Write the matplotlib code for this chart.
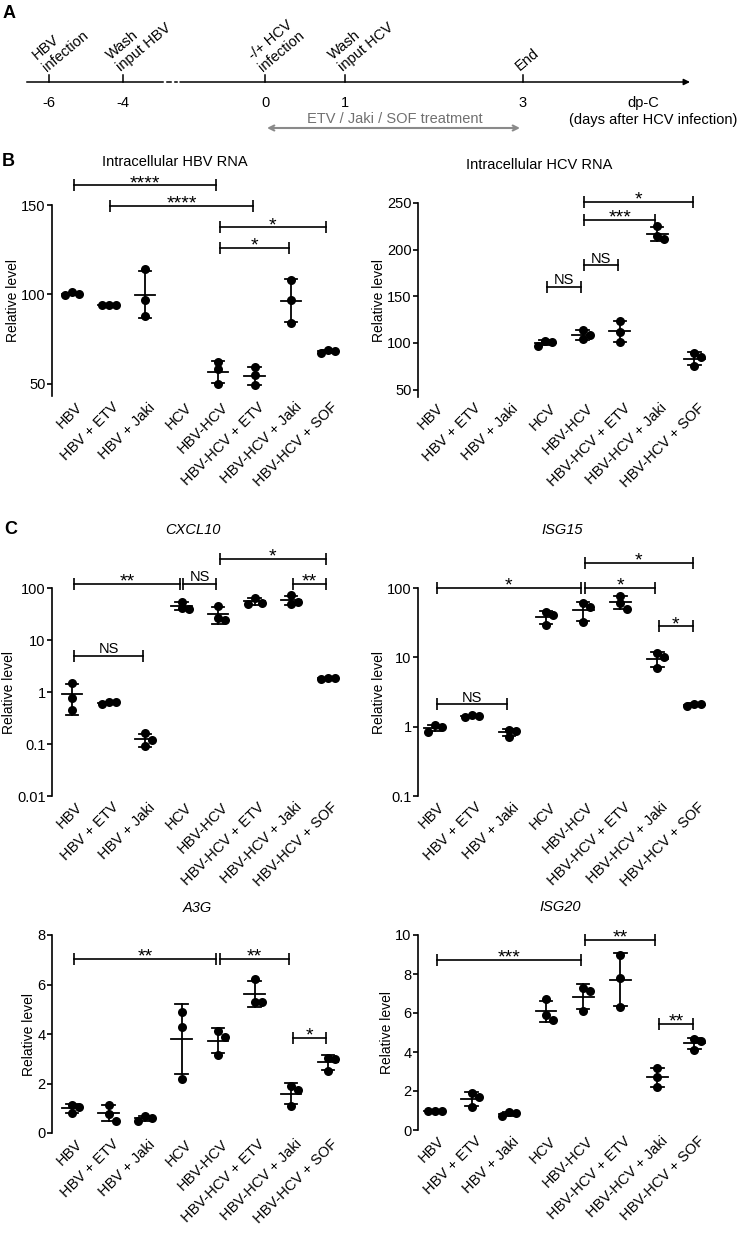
import numpy as np
import matplotlib
matplotlib.use('Agg')
import matplotlib.pyplot as plt
from matplotlib.ticker import NullLocator
from matplotlib.transforms import ScaledTranslation

plt.rcParams['font.family'] = ['Liberation Sans', 'DejaVu Sans']
plt.rcParams['font.size'] = 10

W, H = 742, 1236

# groups on the x axis
groups = ['HBV', 'HBV + ETV', 'HBV + Jaki', 'HCV', 'HBV-HCV',
          'HBV-HCV + ETV', 'HBV-HCV + Jaki', 'HBV-HCV + SOF']

# panel A: time line
time_ticks = ['-6', '-4', '0', '1', '3']
time_events = ['HBV\ninfection', 'Wash\ninput HBV', '-/+ HCV\ninfection',
               'Wash\ninput HCV', 'End']
treatment = 'ETV / Jaki / SOF treatment'

# panel B (empty list = no data for that group)
hbv_rna = [[99.5, 101, 100], [94, 94, 94], [114, 97, 88], [],
           [62, 58, 50], [59, 55, 49], [108, 97, 84], [69, 67, 68]]
hbv_rna_sig = [(0, 4, 161, '****'), (1, 5, 149.5, '****'),
               (4, 7, 137.5, '*'), (4, 6, 126, '*')]

hcv_rna = [[], [], [], [97, 101, 102], [114, 104, 108],
           [124, 112, 101], [225, 211, 215], [89, 85, 75]]
hcv_rna_sig = [(4, 7, 251, '*'), (4, 6, 232, '***'),
               (4, 5, 183, 'NS'), (3, 4, 160, 'NS')]

# panel C
cxcl10 = [[1.5, 0.75, 0.45], [0.65, 0.6, 0.63], [0.16, 0.12, 0.09],
          [55, 41, 40], [45, 27, 24], [65, 51, 50], [73, 55, 50], [1.9, 1.8, 1.85]]
cxcl10_sig = [(0, 3, 119, '**'), (3, 4, 119, 'NS'), (4, 7, 360, '*'),
              (6, 7, 119, '**'), (0, 2, 5, 'NS')]

isg15 = [[1.05, 1.0, 0.85], [1.45, 1.4, 1.42], [0.9, 0.88, 0.72],
         [45, 41, 29], [60, 54, 32], [77, 61, 50], [11.5, 10, 7], [2.1, 2.0, 2.15]]
isg15_sig = [(0, 4, 101, '*'), (4, 6, 101, '*'), (4, 7, 230, '*'),
             (6, 7, 28, '*'), (0, 2, 2.1, 'NS')]

a3g = [[1.15, 1.05, 0.8], [1.15, 0.75, 0.5], [0.7, 0.6, 0.5],
       [4.9, 4.3, 2.18], [4.13, 3.89, 3.15], [6.21, 5.3, 5.3],
       [1.9, 1.74, 1.1], [3.0, 3.05, 2.5]]
a3g_sig = [(0, 4, 7.03, '**'), (4, 6, 7.03, '**'), (6, 7, 3.84, '*')]

isg20 = [[1.0, 1.0, 0.95], [1.9, 1.7, 1.2], [0.9, 0.85, 0.7],
         [6.7, 5.64, 5.9], [7.3, 7.13, 6.1], [9.0, 7.8, 6.3],
         [3.2, 2.7, 2.2], [4.67, 4.55, 4.1]]
isg20_sig = [(0, 4, 8.72, '***'), (4, 6, 9.74, '**'), (6, 7, 5.46, '**')]


fig = plt.figure(figsize=(W / 100, H / 100), dpi=100)


def box(left, top, right, bottom):
    # pixel box -> figure fraction
    return [left / W, 1 - bottom / H, (right - left) / W, (bottom - top) / H]


def swarm(ax, x, vals, step=0.19, dmin=6.5):
    placed = []
    offs = np.zeros(len(vals))
    for k in np.argsort(-vals):
        for o in [0, step, -step, 2 * step, -2 * step]:
            p = ax.transData.transform((x + o, vals[k]))
            if all(np.hypot(*(p - q)) >= dmin for q in placed):
                break
        offs[k] = o
        placed.append(p)
    return offs


def bracket(ax, x1, x2, y, label):
    d = 0.05
    ax.plot([x1 + d, x2 - d], [y, y], color='k', lw=1.2, marker='|', ms=8,
            mew=1.2, clip_on=False, zorder=5)
    star = '*' in label
    ax.annotate(label, xy=((x1 + x2) / 2, y), xytext=(0, -2 if star else 2),
                textcoords='offset points', ha='center', va='baseline',
                fontsize=14 if star else 10.5, annotation_clip=False)


def scatter_panel(pos, values, sig, ylim, yticks, xlo, log=False, ticklabels=None):
    ax = fig.add_axes(box(*pos))
    if log:
        ax.set_yscale('log')
    ax.set_xlim(xlo, 7.5)
    ax.set_ylim(*ylim)
    ax.set_yticks(yticks)
    if ticklabels is not None:
        ax.set_yticklabels(ticklabels)
    ax.yaxis.set_minor_locator(NullLocator())
    for s in ['top', 'right', 'bottom']:
        ax.spines[s].set_visible(False)
    ax.spines['left'].set_linewidth(1.2)
    ax.tick_params(axis='y', direction='out', length=3.6, width=1.2, labelsize=10.5, pad=1)
    ax.tick_params(axis='x', length=0, pad=3)
    ax.set_xticks(range(len(groups)))
    ax.set_xticklabels(groups, rotation=45, ha='right', va='top',
                       rotation_mode='anchor', fontsize=10.5)
    for lbl in ax.get_xticklabels():
        lbl.set_transform(lbl.get_transform() + ScaledTranslation(0.03, 0, fig.dpi_scale_trans))
    ax.set_ylabel('Relative level', fontsize=10, labelpad=1)

    for i, vals in enumerate(values):
        if not vals:
            continue
        v = np.array(vals, dtype=float)
        offs = swarm(ax, i, v)
        ax.plot(i + offs, v, 'o', color='k', ms=6.5, mew=0, clip_on=False, zorder=3)
        m, sd = v.mean(), v.std(ddof=1)
        lo, hi = m - sd, m + sd
        ax.plot([i - 0.28, i + 0.28], [m, m], color='k', lw=1.3, zorder=4)
        ax.plot([i, i], [lo, hi], color='k', lw=1.3, zorder=4)
        for e in (lo, hi):
            ax.plot([i - 0.17, i + 0.17], [e, e], color='k', lw=1.3, zorder=4)

    for x1, x2, y, label in sig:
        bracket(ax, x1, x2, y, label)
    return ax


# ---------------- panel A ----------------
ta = fig.add_axes(box(0, 0, W, 145))
ta.set_xlim(0, W)
ta.set_ylim(145, 0)
ta.axis('off')

tick_px = [49, 123, 265, 345, 523]
line_y = 82
ta.plot([27, 163], [line_y, line_y], color='k', lw=1.1)
ta.plot([167, 171], [line_y, line_y], color='k', lw=1.1)
ta.plot([175, 177], [line_y, line_y], color='k', lw=1.1)
ta.annotate('', xy=(690, line_y), xytext=(180, line_y),
            arrowprops=dict(arrowstyle='-|>', lw=1.1, color='k',
                            mutation_scale=9, shrinkA=0, shrinkB=0))
for tx, tl, ev in zip(tick_px, time_ticks, time_events):
    ta.plot([tx, tx], [line_y, line_y - 7], color='k', lw=1.1)
    ta.text(tx, 103, tl, ha='center', va='center', fontsize=10.5)
    ta.text(tx - 3, 71, ev, rotation=40, ha='left', va='baseline',
            rotation_mode='anchor', multialignment='left', fontsize=10.5,
            linespacing=1.1)
ta.text(643, 103, 'dp-C', ha='center', va='center', fontsize=10.5)
ta.text(653, 120, '(days after HCV infection)', ha='center', va='center', fontsize=10.5)
ta.annotate('', xy=(520, 128), xytext=(267, 128),
            arrowprops=dict(arrowstyle='<->', lw=1.5, color='#8a8a8a',
                            mutation_scale=9, shrinkA=0, shrinkB=0))
ta.text(395, 119, treatment, ha='center', va='center', fontsize=10.5, color='#707070')

# ---------------- panel B ----------------
scatter_panel((52, 205, 346, 396), hbv_rna, hbv_rna_sig, (43, 150), [50, 100, 150], -0.55)
scatter_panel((418, 203, 713, 397), hcv_rna, hcv_rna_sig, (42, 250),
              [50, 100, 150, 200, 250], -0.42)

# ---------------- panel C ----------------
scatter_panel((52, 588, 346, 796), cxcl10, cxcl10_sig, (0.01, 100),
              [0.01, 0.1, 1, 10, 100], -0.55, log=True,
              ticklabels=['0.01', '0.1', '1', '10', '100'])
scatter_panel((418, 588, 713, 796), isg15, isg15_sig, (0.1, 100),
              [0.1, 1, 10, 100], -0.45, log=True,
              ticklabels=['0.1', '1', '10', '100'])
scatter_panel((52, 935, 346, 1133), a3g, a3g_sig, (0, 8), [0, 2, 4, 6, 8], -0.55)
scatter_panel((418, 935, 713, 1130), isg20, isg20_sig, (0, 10),
              [0, 2, 4, 6, 8, 10], -0.45)

# titles and panel letters
titles = [('Intracellular HBV RNA', 175, 162, 'normal'),
          ('Intracellular HCV RNA', 539, 165, 'normal'),
          ('CXCL10', 193, 530, 'italic'), ('ISG15', 562, 530, 'italic'),
          ('A3G', 197, 908, 'italic'), ('ISG20', 560, 907, 'italic')]
for t, x, y, st in titles:
    fig.text(x / W, 1 - y / H, t, ha='center', va='center', fontsize=10.5, style=st)

for letter, x, y in [('A', 3, 14), ('B', 2, 162), ('C', 4, 530)]:
    fig.text(x / W, 1 - y / H, letter, ha='left', va='center', fontsize=13,
             fontweight='bold')

fig.savefig('out.png', dpi=100)
